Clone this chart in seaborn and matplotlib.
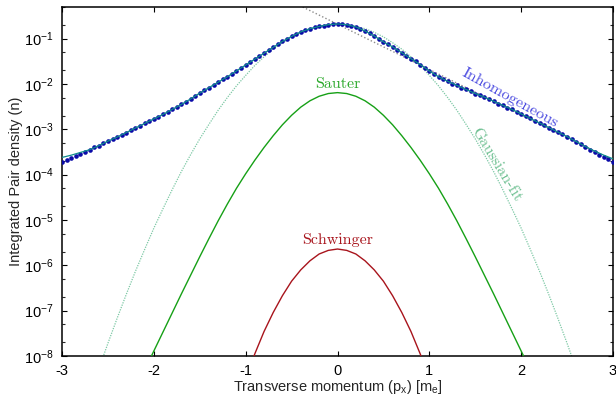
import numpy as np
import pandas as pd
import matplotlib
matplotlib.use("Agg")
import matplotlib.pyplot as plt
import seaborn as sns
from matplotlib.ticker import LogLocator, FixedLocator, FuncFormatter, NullFormatter

# ---------------- data ----------------
# Inhomogeneous: numerical points, x = -3 ... 3 step 0.05, values as log10(n)
inhom_px = np.round(np.linspace(-3.0, 3.0, 121), 2)
inhom_log10 = [
    -3.71, -3.68, -3.64, -3.59, -3.54, -3.49, -3.45, -3.40, -3.36, -3.31,
    -3.26, -3.22, -3.17, -3.12, -3.07, -3.02, -2.97, -2.92, -2.87, -2.82,
    -2.77, -2.72, -2.67, -2.62, -2.56, -2.50, -2.45, -2.39, -2.33, -2.26,
    -2.20, -2.14, -2.08, -2.02, -1.96, -1.90, -1.84, -1.78, -1.71, -1.65,
    -1.58, -1.51, -1.45, -1.39, -1.32, -1.25, -1.19, -1.12, -1.06, -1.01,
    -0.95, -0.90, -0.85, -0.81, -0.78, -0.75, -0.73, -0.71, -0.69, -0.68,
    -0.675,
    -0.68, -0.69, -0.71, -0.74, -0.78, -0.83, -0.88, -0.94, -1.00, -1.07,
    -1.12, -1.18, -1.24, -1.31, -1.38, -1.44, -1.50, -1.57, -1.64, -1.71,
    -1.78, -1.84, -1.89, -1.94, -1.99, -2.03, -2.08, -2.12, -2.16, -2.21,
    -2.25, -2.29, -2.34, -2.38, -2.43, -2.47, -2.52, -2.56, -2.61, -2.66,
    -2.71, -2.76, -2.81, -2.86, -2.91, -2.96, -3.01, -3.06, -3.11, -3.16,
    -3.22, -3.27, -3.33, -3.39, -3.45, -3.51, -3.56, -3.61, -3.66, -3.71,
]

# Smooth fit through the inhomogeneous points, x = -3 ... 3 step 0.1
fit_px = np.round(np.linspace(-3.0, 3.0, 61), 1)
fit_log10 = [
    -3.62, -3.57, -3.51, -3.45, -3.36, -3.26, -3.17, -3.07, -2.97, -2.87,
    -2.77, -2.67, -2.56, -2.45, -2.33, -2.20, -2.08, -1.96, -1.84, -1.71,
    -1.58, -1.45, -1.32, -1.19, -1.06, -0.95, -0.85, -0.78, -0.73, -0.69,
    -0.675,
    -0.69, -0.74, -0.83, -0.94, -1.07, -1.18, -1.31, -1.44, -1.57, -1.71,
    -1.84, -1.94, -2.03, -2.12, -2.21, -2.29, -2.38, -2.47, -2.56, -2.66,
    -2.76, -2.86, -2.96, -3.06, -3.16, -3.27, -3.38, -3.48, -3.57, -3.65,
]

# Exponential tail fit (grey dotted straight line in log scale)
exp_px = [-0.6, 3.0]
exp_log10 = [-0.08, -3.68]

# Gaussian fit, x = -2.6 ... 2.6 step 0.1
gauss_px = np.round(np.linspace(-2.6, 2.6, 53), 1)
gauss_log10 = [
    -8.29, -7.72, -7.17, -6.64, -6.13, -5.65, -5.18, -4.75, -4.33, -3.93,
    -3.56, -3.21, -2.89, -2.58, -2.30, -2.04, -1.81, -1.59, -1.40, -1.23,
    -1.09, -0.96, -0.86, -0.78, -0.73, -0.69,
    -0.68,
    -0.69, -0.73, -0.78, -0.86, -0.96, -1.09, -1.23, -1.40, -1.59, -1.81,
    -2.04, -2.30, -2.58, -2.89, -3.21, -3.56, -3.93, -4.33, -4.75, -5.18,
    -5.65, -6.13, -6.64, -7.17, -7.72, -8.29,
]

# Sauter, x = -2.1 ... 2.1 step 0.1
sauter_px = np.round(np.linspace(-2.1, 2.1, 43), 1)
sauter_log10 = [
    -8.31, -7.89, -7.47, -7.05, -6.63, -6.22, -5.81, -5.41, -5.02, -4.65,
    -4.30, -3.98, -3.68, -3.40, -3.14, -2.90, -2.69, -2.51, -2.37, -2.27,
    -2.21,
    -2.19,
    -2.21, -2.27, -2.37, -2.51, -2.69, -2.90, -3.14, -3.40, -3.68, -3.98,
    -4.30, -4.65, -5.02, -5.41, -5.81, -6.22, -6.63, -7.05, -7.47, -7.89,
    -8.31,
]

# Schwinger, x = -1.0 ... 1.0 step 0.1
schw_px = np.round(np.linspace(-1.0, 1.0, 21), 1)
schw_log10 = [
    -8.49, -7.95, -7.46, -7.04, -6.67, -6.35, -6.10, -5.90, -5.75, -5.67,
    -5.64,
    -5.67, -5.75, -5.90, -6.10, -6.35, -6.67, -7.04, -7.46, -7.95, -8.49,
]

x_ticks = [-3, -2, -1, 0, 1, 2, 3]
x_ticklabels = ["-3", "-2", "-1", "0", "1", "2", "3"]
y_exponents = [-8, -7, -6, -5, -4, -3, -2, -1]

def to_n(v):
    return 10.0 ** np.asarray(v, dtype=float)

# ---------------- style ----------------
sns.set_theme(style="ticks")
plt.rcParams["font.family"] = ["Liberation Sans", "DejaVu Sans"]
plt.rcParams["mathtext.fontset"] = "custom"
plt.rcParams["mathtext.rm"] = "Liberation Sans"
plt.rcParams["mathtext.it"] = "Liberation Sans:italic"
plt.rcParams["mathtext.bf"] = "Liberation Sans:bold"
plt.rcParams["axes.unicode_minus"] = False

W, H = 616, 398
fig = plt.figure(figsize=(W / 100, H / 100), dpi=100)
ax = fig.add_axes([62 / W, 1 - 356 / H, (613 - 62) / W, (356 - 7) / H])
ax.set_facecolor("white")

ax.set_yscale("log")

# grey exponential line (behind everything)
sns.lineplot(x=exp_px, y=to_n(exp_log10), ax=ax, color="#8c8c8c",
             linewidth=1.0, linestyle=(0, (1, 1.6)), zorder=1)
# gaussian fit
sns.lineplot(x=gauss_px, y=to_n(gauss_log10), ax=ax, color="#7cc8a4",
             linewidth=0.9, linestyle=(0, (1, 1)), zorder=2)
# Sauter
sns.lineplot(x=sauter_px, y=to_n(sauter_log10), ax=ax, color="#16a016",
             linewidth=1.0, zorder=3)
# Schwinger
sns.lineplot(x=schw_px, y=to_n(schw_log10), ax=ax, color="#a8141c",
             linewidth=1.0, zorder=3)
# inhomogeneous points
sns.scatterplot(x=inhom_px, y=to_n(inhom_log10), ax=ax, color="#0a0aa8",
                s=11, linewidth=0, zorder=4)
# fit through the points
sns.lineplot(x=fit_px, y=to_n(fit_log10), ax=ax, color="#0f8c8c",
             linewidth=0.9, zorder=5)

ax.set_xlim(-3, 3)
ax.set_ylim(1e-8, 0.5)

ax.xaxis.set_major_locator(FixedLocator(x_ticks))
ax.set_xticklabels(x_ticklabels)
ax.yaxis.set_major_locator(FixedLocator([10.0 ** e for e in y_exponents]))
ax.yaxis.set_major_formatter(FuncFormatter(
    lambda v, p: r"$10^{%d}$" % int(round(np.log10(v)))))
ax.yaxis.set_minor_locator(LogLocator(base=10, subs=(2.0, 5.0), numticks=50))
ax.yaxis.set_minor_formatter(NullFormatter())

ax.tick_params(axis="both", which="major", direction="in", length=3.8,
               width=0.8, top=True, right=True, labelsize=10.5, pad=6,
               colors="black")
ax.tick_params(axis="y", which="minor", direction="in", length=2.0,
               width=0.8, right=True, left=True)
ax.tick_params(axis="x", which="minor", bottom=False, top=False)
for s in ax.spines.values():
    s.set_linewidth(1.1)
    s.set_color("black")

ax.set_xlabel(r"Transverse momentum (p$_{\mathrm{x}}$) [m$_{\mathrm{e}}$]",
              fontsize=10.5, labelpad=0)
ax.set_ylabel("Integrated Pair density (n)", fontsize=10.5, labelpad=1)

serif = ["cmr10", "DejaVu Serif"]
ax.text(0, 10 ** -1.995, "Sauter", color="#2aa82a", fontsize=11.5,
        family=serif, ha="center", va="center")
ax.text(0, 10 ** -5.44, "Schwinger", color="#a8141c", fontsize=11.5,
        family=serif, ha="center", va="center")
ax.text(1.88, 10 ** -2.30, "Inhomogeneous", color="#4a4ae0", fontsize=11.5,
        family=serif, ha="center", va="center", rotation=-29,
        rotation_mode="anchor")
ax.text(1.73, 10 ** -3.785, "Gaussian-fit", color="#6cbf90", fontsize=11.5,
        family=serif, ha="center", va="center", rotation=-58.5,
        rotation_mode="anchor")

fig.savefig("out.png", dpi=100, facecolor="white")
